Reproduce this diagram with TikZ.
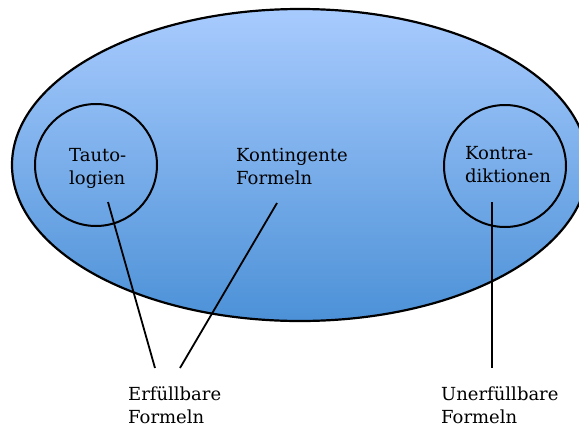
\documentclass[tikz,border=0pt]{standalone}
\usepackage{fontspec}
\setmainfont{DejaVu Serif}
\definecolor{topblue}{RGB}{168,203,254}
\definecolor{botblue}{RGB}{76,145,215}
\begin{document}
\begin{tikzpicture}[x=1pt,y=-1pt,
  lbl/.style={anchor=base west,inner sep=0pt,align=left,
    font=\fontsize{18pt}{23pt}\selectfont},
  ring/.style={draw=black,line width=2pt},
  link/.style={draw=black,line width=1.8pt}]
\useasboundingbox (0,0) rectangle (579,426);
\clip (0,0) rectangle (579,426);
\draw[line width=2.2pt,top color=topblue,bottom color=botblue]
  (300,165) ellipse [x radius=288pt,y radius=156pt];
\node[ring,circle,minimum size=122pt,inner sep=0pt] (cl) at (96,165) {};
\node[ring,circle,minimum size=122pt,inner sep=0pt] (cr) at (505,166) {};
\node[lbl] (tauto) at (69,184) {Tauto-\\logien};
\node[lbl] (konting) at (236,184) {Kontingente\\Formeln};
\node[lbl] (kontra) at (465,182) {Kontra-\\diktionen};
\node[lbl] (erf) at (128,423) {Erfüllbare\\Formeln};
\node[lbl] (unerf) at (441,423) {Unerfüllbare\\Formeln};
\coordinate (a1) at (108,202);
\coordinate (a2) at (155,368);
\coordinate (b1) at (277,203);
\coordinate (b2) at (180,368);
\coordinate (c1) at (492,202);
\coordinate (c2) at (492,368);
\draw[link] (a1) -- (a2);
\draw[link] (b1) -- (b2);
\draw[link] (c1) -- (c2);
\end{tikzpicture}
\end{document}
